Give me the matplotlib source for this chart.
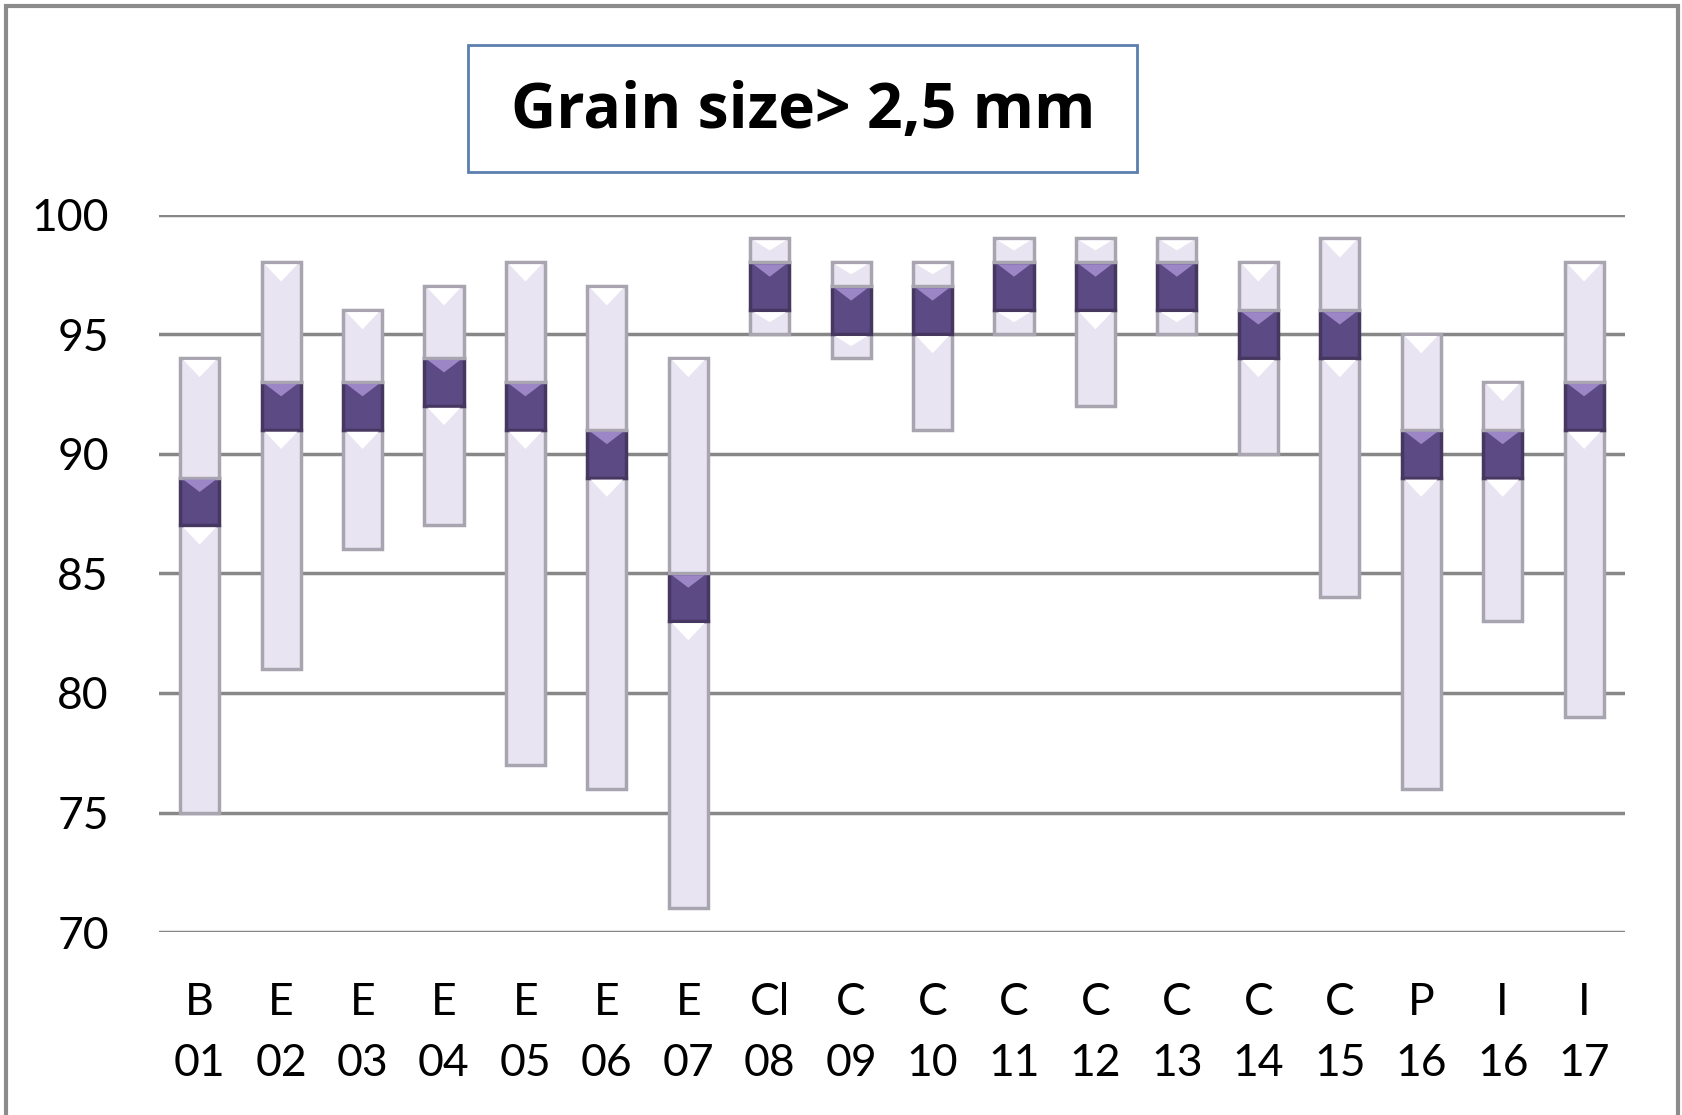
import matplotlib.pyplot as plt
import numpy as np
from matplotlib.patches import Rectangle, Polygon

letters = ['B', 'E', 'E', 'E', 'E', 'E', 'E', 'Cl', 'C', 'C', 'C', 'C', 'C', 'C', 'C', 'P', 'I', 'I']
numbers = ['01', '02', '03', '04', '05', '06', '07', '08', '09', '10', '11', '12', '13', '14', '15', '16', '16', '17']
lows = [75, 81, 86, 87, 77, 76, 71, 95, 94, 91, 95, 92, 95, 90, 84, 76, 83, 79]
highs = [94, 98, 96, 97, 98, 97, 94, 99, 98, 98, 99, 99, 99, 98, 99, 95, 93, 98]
box_lo = [87, 91, 91, 92, 91, 89, 83, 96, 95, 95, 96, 96, 96, 94, 94, 89, 89, 91]
box_hi = [89, 93, 93, 94, 93, 91, 85, 98, 97, 97, 98, 98, 98, 96, 96, 91, 91, 93]

labels = [a + '\n' + b for a, b in zip(letters, numbers)]
ind = np.arange(len(labels))
width = 0.48

light = '#E9E4F1'
light_edge = '#A9A5B0'
dark = '#5C4A84'
dark_edge = '#45375F'

plt.rcParams['font.family'] = ['Lato', 'DejaVu Sans']

fig = plt.figure(figsize=(16.82, 11.15), dpi=100)
ax = fig.add_axes([0.0945, 0.164, 0.8715, 0.6436])

# light range bars: min -> box, box -> max
lo_h = np.array(box_lo) - np.array(lows)
hi_h = np.array(highs) - np.array(box_hi)
bx_h = np.array(box_hi) - np.array(box_lo)
b1 = ax.bar(ind, lo_h, width, bottom=lows, color=light, edgecolor=light_edge, linewidth=2.5, zorder=3)
b2 = ax.bar(ind, bx_h, width, bottom=box_lo, color=dark, edgecolor=dark_edge, linewidth=2.5, zorder=3)
b3 = ax.bar(ind, hi_h, width, bottom=box_hi, color=light, edgecolor=light_edge, linewidth=2.5, zorder=3)

# bevel-ish facets on top of each segment
def facet(rects, col, depth):
    for r in rects:
        x0 = r.get_x()
        w = r.get_width()
        top = r.get_y() + r.get_height()
        d = min(depth, r.get_height() / 2.0)
        ax.add_patch(Polygon([(x0 + 0.04, top - 0.08), (x0 + w - 0.04, top - 0.08),
                              (x0 + w / 2, top - d)], closed=True,
                             facecolor=col, edgecolor='none', zorder=4))

facet(b1, 'white', 0.8)
facet(b3, 'white', 0.8)
facet(b2, '#9C86C6', 0.6)

ax.set_xlim(-0.5, len(labels) - 0.5)
ax.set_ylim(70, 100)
ax.set_yticks(np.arange(70, 101, 5))
ax.set_xticks(ind)
ax.set_xticklabels(labels, linespacing=1.6)
ax.yaxis.grid(True, color='#878787', linewidth=2.5, zorder=0)
ax.set_axisbelow(True)
for s in ax.spines.values():
    s.set_visible(False)
ax.tick_params(axis='both', length=0, labelsize=32)
ax.tick_params(axis='y', pad=36)
ax.tick_params(axis='x', pad=36)

# title box
fig.patches.append(Rectangle((468 / 1682, 1 - 172 / 1115), (1137 - 468) / 1682, (172 - 45) / 1115,
                             transform=fig.transFigure, facecolor='white', edgecolor='#5B7FAE',
                             linewidth=2))
fig.text(803 / 1682, 1 - 112 / 1115, 'Grain size> 2,5 mm', ha='center', va='center',
         fontsize=45, fontweight='bold', family=['Open Sans', 'DejaVu Sans'])

# outer frame
fig.patches.append(Rectangle((6 / 1682, -0.05), (1678 - 6) / 1682, 1.05 - 6 / 1115,
                             transform=fig.transFigure, facecolor='none', edgecolor='#8C8C8C',
                             linewidth=3))

plt.savefig('out.png', dpi=100)
